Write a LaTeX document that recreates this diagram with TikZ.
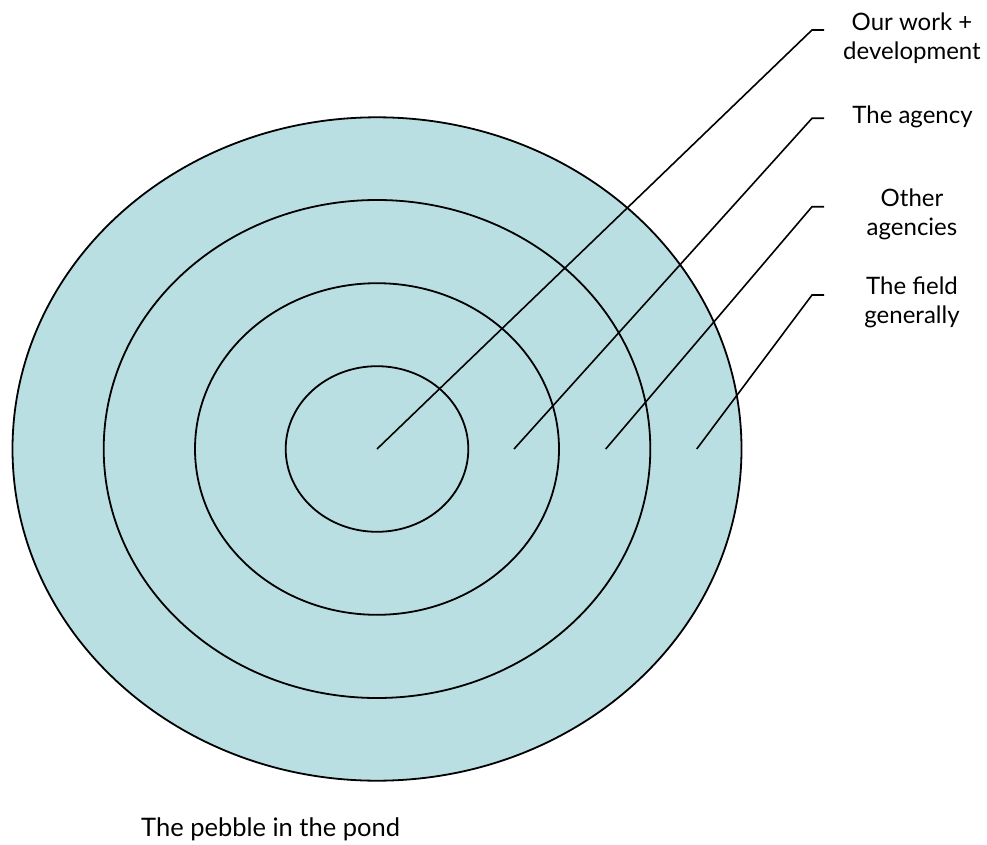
\documentclass[tikz,border=0pt]{standalone}
\usepackage{fontspec}
\setmainfont{Lato}
\definecolor{pond}{RGB}{186,223,226}
\begin{document}
\begin{tikzpicture}[x=1pt,y=-1pt,
  ring/.style={draw=black,line width=1.8pt},
  leader/.style={draw=black,line width=1.6pt},
  lbl/.style={align=center,anchor=base,inner sep=0pt,font=\fontsize{24}{29.5}\selectfont}]
\useasboundingbox (0,0) rectangle (987,845);
\fill[pond] (377,449) ellipse [x radius=364.5, y radius=331.7];
\draw[ring] (377,449) ellipse [x radius=364.5, y radius=331.7];
\draw[ring] (377,449) ellipse [x radius=273.3, y radius=249];
\draw[ring] (377,449) ellipse [x radius=182, y radius=165.8];
\draw[ring] (377,449) ellipse [x radius=91.3, y radius=82.8];
% leader coordinates
\coordinate (s1) at (377,449);
\coordinate (s2) at (514,449);
\coordinate (s3) at (605.7,449);
\coordinate (s4) at (696.7,449);
\coordinate (k1) at (812,30);
\coordinate (k2) at (812,118.3);
\coordinate (k3) at (812,206.7);
\coordinate (k4) at (812,295);
\coordinate (e1) at (824,30);
\coordinate (e2) at (824,118.3);
\coordinate (e3) at (824,206.7);
\coordinate (e4) at (824,295);
\draw[leader] (s1) -- (k1) -- (e1);
\draw[leader] (s2) -- (k2) -- (e2);
\draw[leader] (s3) -- (k3) -- (e3);
\draw[leader] (s4) -- (k4) -- (e4);
% labels (anchor = baseline of last line)
\node[lbl] (l1) at (912,60) {Our work +\\development};
\node[lbl] (l2) at (912.5,123.3) {The agency};
\node[lbl] (l3) at (912,235.5) {Other\\agencies};
\node[lbl] (l4) at (912,323.5) {The field\\generally};
\node[lbl,anchor=base west,font=\fontsize{25.5}{30}\selectfont] (cap) at (141,836) {The pebble in the pond};
\end{tikzpicture}
\end{document}
